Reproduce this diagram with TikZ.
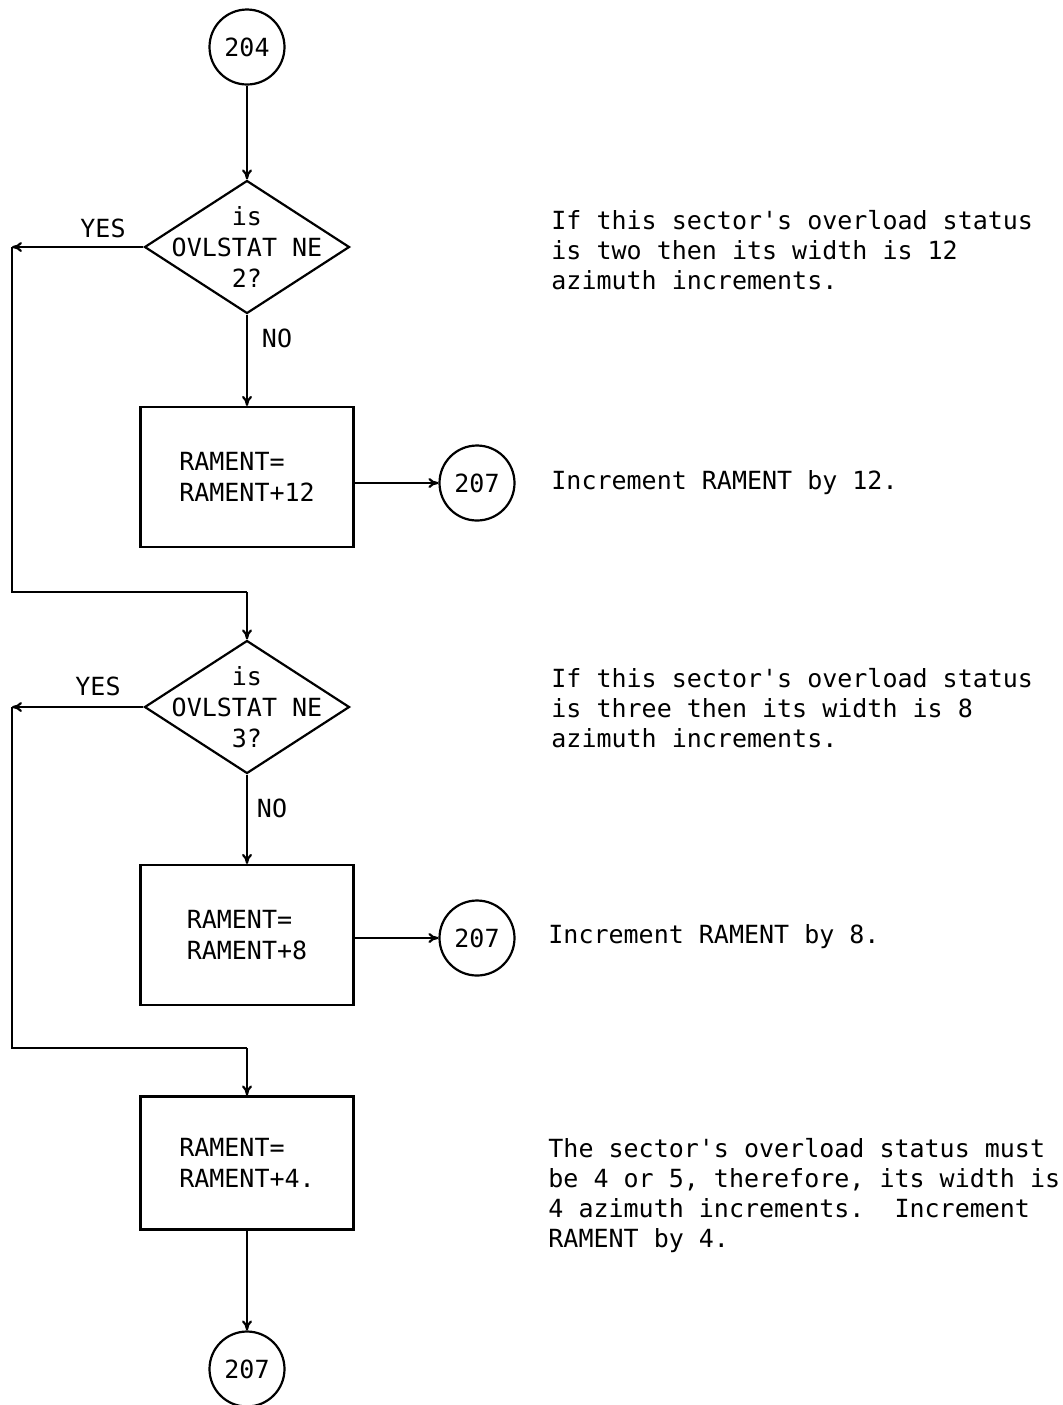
\documentclass[tikz,border=0pt]{standalone}
\usepackage{fontspec}
\setmonofont{DejaVu Sans Mono}
\usetikzlibrary{shapes.geometric,arrows.meta,positioning}

\begin{document}
\begin{tikzpicture}[
  x=0.5pt, y=-0.5pt,
  every node/.style={font=\ttfamily\fontsize{12.5}{15.5}\selectfont,inner sep=0pt},
  conn/.style={circle,draw,line width=1.1pt,minimum size=37.5pt},
  decision/.style={diamond,draw,line width=1.1pt,minimum width=102.5pt,minimum height=66.5pt},
  procbox/.style={rectangle,draw,line width=1.1pt,minimum width=106.5pt,minimum height=70pt,align=left},
  note/.style={anchor=west,align=left,font=\ttfamily\fontsize{12.5}{15}\selectfont},
  flow/.style={line width=1.1pt,-{To[length=5pt,width=5pt]}},
  wire/.style={line width=1.1pt}
]
  \useasboundingbox (0,0) rectangle (1063,1405);

  \node[conn] (s)  at (247,47)  {204};
  \node[decision] (d1) at (247,247) {};
  \node[align=center] (t1) at (d1) {is\\OVLSTAT NE\\2?};
  \node[procbox] (b1) at (247,477) {RAMENT=\\RAMENT+12};
  \node[conn] (e1) at (477,483) {207};

  \node[decision] (d2) at (247,707) {};
  \node[align=center] (t2) at (d2) {is\\OVLSTAT NE\\3?};
  \node[procbox] (b2) at (247,935) {RAMENT=\\RAMENT+8};
  \node[conn] (e2) at (477,938) {207};

  \node[procbox,minimum height=66.5pt] (b3) at (247,1163) {RAMENT=\\RAMENT+4.};
  \node[conn] (e3) at (247,1369) {207};

  \coordinate (c1) at (12,247);
  \coordinate (j1) at (247,592);
  \coordinate (c2) at (12,707);
  \coordinate (j2) at (247,1048);

  \node (y1) at (103,228) {YES};
  \node (n1) at (277,338) {NO};
  \node (y2) at (98,686)  {YES};
  \node (n2) at (272,808) {NO};

  \draw[flow] (s) -- (d1.north);
  \draw[flow] (d1.south) -- (b1.north);
  \draw[flow] (b1.east |- e1.west) -- (e1.west);
  \draw[flow] (d1.west) -- (c1);
  \draw[wire] (c1) |- (j1);
  \draw[flow] (j1) -- (d2.north);
  \draw[flow] (d2.south) -- (b2.north);
  \draw[flow] (b2.east |- e2.west) -- (e2.west);
  \draw[flow] (d2.west) -- (c2);
  \draw[wire] (c2) |- (j2);
  \draw[flow] (j2) -- (b3.north);
  \draw[flow] (b3.south) -- (e3.north);

  \node[note] (m1) at (551,250)  {If this sector's overload status\\is two then its width is 12\\azimuth increments.};
  \node[note] (m2) at (551,483)  {Increment RAMENT by 12.};
  \node[note] (m3) at (551,708)  {If this sector's overload status\\is three then its width is 8\\azimuth increments.};
  \node[note] (m4) at (548,937)  {Increment RAMENT by 8.};
  \node[note] (m5) at (548,1196) {The sector's overload status must\\be 4 or 5, therefore, its width is\\4 azimuth increments.\ \ Increment\\RAMENT by 4.};
\end{tikzpicture}
\end{document}
